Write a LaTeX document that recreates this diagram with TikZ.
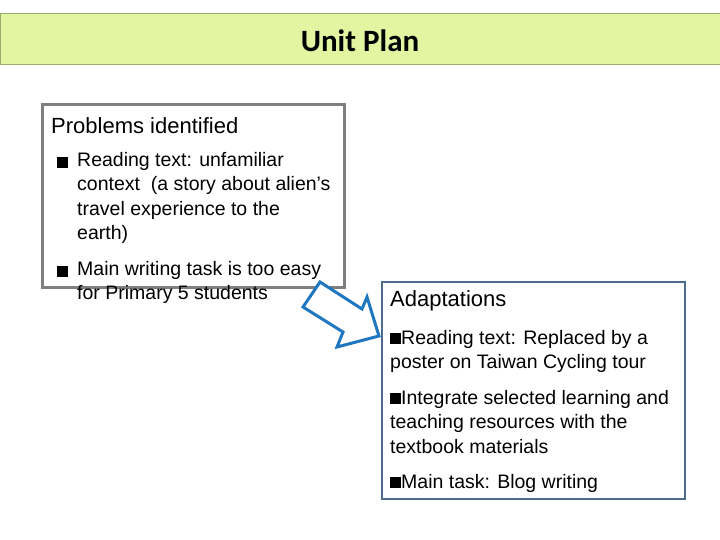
\documentclass[tikz,border=0pt]{standalone}
\usepackage{fontspec}
\setmainfont{Liberation Sans}
\newfontfamily\titlefont{Carlito}
\usetikzlibrary{positioning}
\definecolor{barfill}{HTML}{E4F5A2}
\definecolor{barline}{HTML}{9AAA6A}
\definecolor{probline}{HTML}{7F7F7F}
\definecolor{adaptline}{HTML}{4F6B8F}
\definecolor{arrowblue}{HTML}{1F77C0}
\newcommand{\sqbullet}{\rule{11pt}{11pt}}
\tikzset{
		bodytext/.style={anchor=north west, inner sep=0pt, align=left,
			font=\fontsize{19.5}{24.5}\selectfont},
		headtext/.style={anchor=west, inner sep=0pt, font=\fontsize{22}{24}\selectfont}
	}
\begin{document}
\begin{tikzpicture}[x=1pt,y=-1pt]
		\useasboundingbox (0,0) rectangle (720,540);
		% title bar
		\draw[barline, fill=barfill, line width=1pt] (0,14) rectangle (720,65);
		\node[font=\titlefont\bfseries\fontsize{31}{34}\selectfont] (title) at (360,41) {Unit Plan};
		% problems box
		\draw[probline, line width=3pt] (42,105) rectangle (344,287);
		\node[headtext] (probhead) at (51,126) {Problems identified};
		\node[bodytext] (bulA) at (57,157) {\sqbullet};
		\node[bodytext] (probA) at (77,152) {Reading text: unfamiliar\\context\ \ (a story about alien’s\\travel experience to the\\earth)};
		\node[bodytext] (bulB) at (57,266) {\sqbullet};
		\node[bodytext] (probB) at (77,261) {Main writing task is too easy\\for Primary 5 students};
		% arrow
		\draw[arrowblue, fill=white, line width=3pt, line join=miter]
			(320,282) -- (362,309) -- (367,297) -- (379,336) -- (337,347) -- (343,332) -- (303,307) -- cycle;
		% adaptations box
		\draw[adaptline, line width=2pt] (382,282) rectangle (685,499);
		\node[headtext] (adapthead) at (390,301) {Adaptations};
		\node[bodytext] (adaptA) at (390,330) {\sqbullet Reading text: Replaced by a\\poster on Taiwan Cycling tour};
		\node[bodytext] (adaptB) at (390,390) {\sqbullet Integrate selected learning and\\teaching resources with the\\textbook materials};
		\node[bodytext] (adaptC) at (390,474) {\sqbullet Main task: Blog writing};
	\end{tikzpicture}
\end{document}
